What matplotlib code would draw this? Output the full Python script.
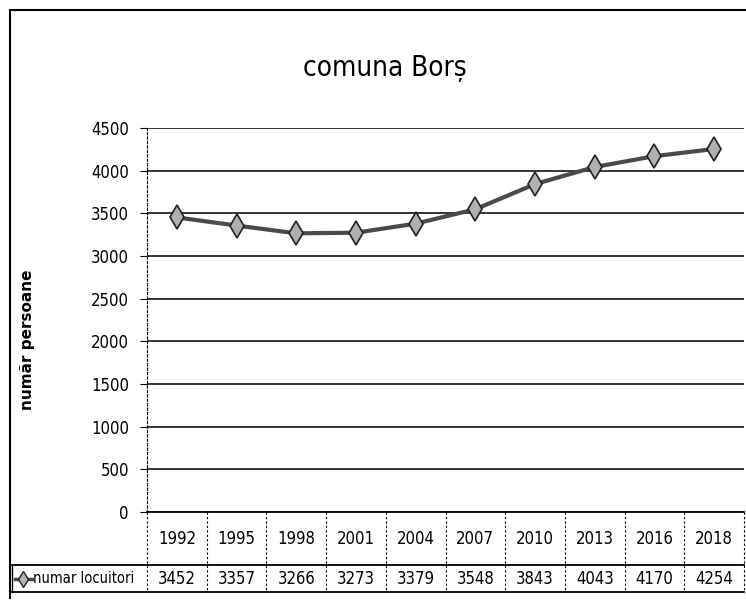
import matplotlib
matplotlib.use('Agg')
import matplotlib.pyplot as plt
from matplotlib.lines import Line2D
from matplotlib.transforms import blended_transform_factory

years = ['1992', '1995', '1998', '2001', '2004', '2007', '2010', '2013', '2016', '2018']
locuitori = [3452, 3357, 3266, 3273, 3379, 3548, 3843, 4043, 4170, 4254]
serie = 'numar locuitori'
titlu = 'comuna Borș'
eticheta_y = 'număr persoane'

plt.rcParams['font.family'] = ['DejaVu Sans']
plt.rcParams['font.stretch'] = 'condensed'

W, H = 746, 603
fig = plt.figure(figsize=(W / 100, H / 100), dpi=100)
fig.patch.set_facecolor('white')

# plot area in pixels: x 147..744, y 128..512
ax = fig.add_axes([147 / W, 1 - 512 / H, (744 - 147) / W, (512 - 128) / H])

x = list(range(len(years)))
ax.plot(x, locuitori, color='#4a4a4a', linewidth=3, zorder=3)
ax.plot(x, locuitori, linestyle='none', marker='d', markersize=12,
        markerfacecolor='#b0b0b0', markeredgecolor='#222222', markeredgewidth=1.2, zorder=4)

ax.set_xlim(-0.5, len(years) - 0.5)
ax.set_ylim(0, 4500)
ax.set_yticks(range(0, 4501, 500))
ax.set_xticks([])
ax.tick_params(axis='y', length=5, labelsize=12, pad=8)
ax.grid(axis='y', color='black', linewidth=1.1)
ax.set_axisbelow(True)
for s in ['top', 'right', 'bottom']:
    ax.spines[s].set_visible(False)
ax.spines['left'].set_linestyle((0, (2, 2)))
ax.spines['left'].set_linewidth(0.8)

fig.text(385 / W, 1 - 68 / H, titlu, ha='center', va='center', fontsize=20)
fig.text(28 / W, 1 - 340 / H, eticheta_y, rotation=90, ha='center', va='center',
         fontsize=11, fontweight='bold', fontstretch='normal')

# data table under the axis
tr = blended_transform_factory(ax.transData, ax.transAxes)
y_row1 = (512 - 565) / 384
y_row2 = (512 - 592) / 384
x_left = (12 - 147) / 597
for i, (yr, v) in enumerate(zip(years, locuitori)):
    ax.text(i, (0 + y_row1) / 2, yr, transform=tr, ha='center', va='center', fontsize=12)
    ax.text(i, (y_row1 + y_row2) / 2, str(v), transform=tr, ha='center', va='center', fontsize=12)
for i in range(len(years) + 1):
    ax.plot([i - 0.5, i - 0.5], [0, y_row2], transform=tr, color='black',
            linewidth=0.8, linestyle=(0, (2, 2)), clip_on=False)
ax.plot([-0.5, len(years) - 0.5], [0, 0], transform=tr, color='black', linewidth=1.3, clip_on=False)
ax.plot([x_left, 1], [y_row1, y_row1], transform=ax.transAxes, color='black', linewidth=1.3, clip_on=False)
ax.plot([x_left, 1], [y_row2, y_row2], transform=ax.transAxes, color='black', linewidth=1.3, clip_on=False)
ax.plot([x_left, x_left], [y_row1, y_row2], transform=ax.transAxes, color='black', linewidth=1.0, clip_on=False)

# legend key in the row label
ly = (y_row1 + y_row2) / 2
lx0, lx1 = x_left + 0.005, x_left + 0.033
ax.add_line(Line2D([lx0, lx1], [ly, ly], transform=ax.transAxes, color='#4a4a4a', linewidth=2.5, clip_on=False))
ax.add_line(Line2D([(lx0 + lx1) / 2], [ly], transform=ax.transAxes, marker='d', markersize=8,
                   markerfacecolor='#b0b0b0', markeredgecolor='#222222', clip_on=False))
ax.text(lx1 + 0.002, ly, serie, transform=ax.transAxes, ha='left', va='center', fontsize=10.5)

# outer chart border
fig.add_artist(Line2D([10 / W, 10 / W], [1 - 10 / H, 1 - 598 / H], transform=fig.transFigure,
                      color='black', linewidth=1.5))
fig.add_artist(Line2D([10 / W, 1], [1 - 10 / H, 1 - 10 / H], transform=fig.transFigure,
                      color='black', linewidth=1.5))

fig.savefig('out.png', dpi=100)
